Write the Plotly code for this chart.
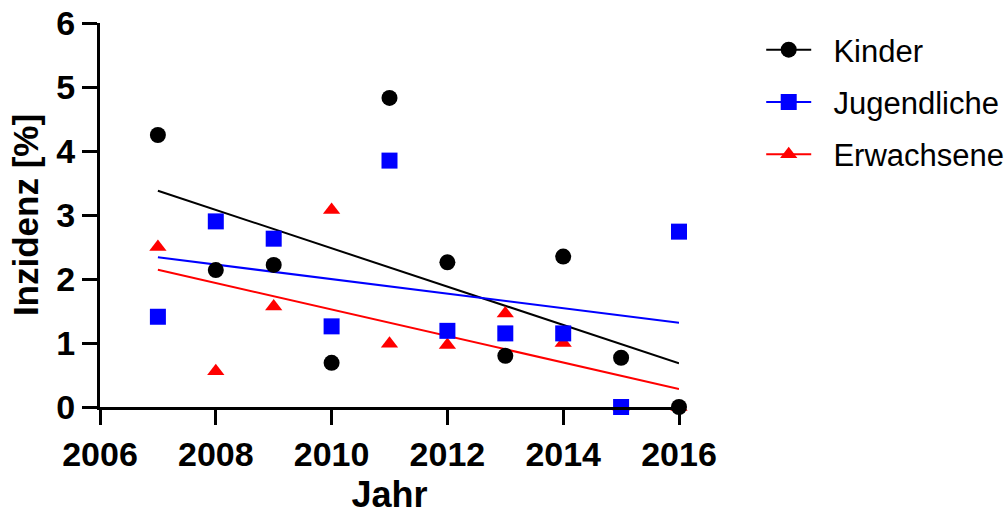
import numpy as np
import plotly.graph_objects as go

years = [2007, 2008, 2009, 2010, 2011, 2012, 2013, 2014, 2015, 2016]
kinder = [4.25, 2.14, 2.22, 0.69, 4.83, 2.26, 0.80, 2.35, 0.77, 0.00]
jugendliche = [1.41, 2.90, 2.63, 1.26, 3.85, 1.19, 1.15, 1.15, 0.00, 2.74]
erwachsene = [2.50, 0.56, 1.57, 3.08, 0.99, 0.97, 1.46, 1.00, 0.00, 0.00]

series = [
    ("Kinder", kinder, "#000000", "circle", 16),
    ("Jugendliche", jugendliche, "#0000ff", "square", 16),
    ("Erwachsene", erwachsene, "#ff0000", "triangle-up", 15),
]

FONT = "Liberation Sans, Arial, sans-serif"
fig = go.Figure()

# regression lines first
xs = np.array(years, dtype=float)
for name, vals, color, sym, size in series:
    slope, intercept = np.polyfit(xs, np.array(vals, dtype=float), 1)
    xl = [xs.min(), xs.max()]
    fig.add_trace(go.Scatter(x=xl, y=[slope * v + intercept for v in xl], mode="lines",
                             line=dict(color=color, width=2), showlegend=False,
                             hoverinfo="skip", cliponaxis=False))

# markers: red, blue, black (black on top)
for name, vals, color, sym, size in reversed(series):
    fig.add_trace(go.Scatter(x=years, y=vals, mode="markers", name=name,
                             marker=dict(color=color, symbol=sym, size=size, line=dict(width=0)),
                             showlegend=False, cliponaxis=False))

# legend entries
for i, (name, vals, color, sym, size) in enumerate(series):
    fig.add_trace(go.Scatter(x=[None], y=[None], mode="lines+markers",
                             name="\u00a0\u00a0" + name,
                             line=dict(color=color, width=2),
                             marker=dict(color=color, symbol=sym, size=size, line=dict(width=0)),
                             legendrank=i + 1, legendgroup=name))

axis_common = dict(showline=True, linecolor="black", linewidth=3, ticks="outside",
                   ticklen=15, tickwidth=3, tickcolor="black", showgrid=False, zeroline=False,
                   automargin=False,
                   tickfont=dict(family=FONT, size=34, color="black", weight="bold"))

fig.update_layout(
    width=1007, height=521,
    margin=dict(l=100, r=328, t=23, b=114, autoexpand=False),
    paper_bgcolor="white", plot_bgcolor="white",
    xaxis=dict(range=[2006, 2016], tickvals=[2006, 2008, 2010, 2012, 2014, 2016],
               title=dict(text="Jahr", font=dict(family=FONT, size=36, color="black", weight="bold"),
                          standoff=11),
               **axis_common),
    yaxis=dict(range=[0, 6], tickvals=[0, 1, 2, 3, 4, 5, 6],
               title=dict(text="Inzidenz [%]", font=dict(family=FONT, size=35, color="black", weight="bold"),
                          standoff=8),
               **axis_common),
    legend=dict(x=1.142, y=1.0, xanchor="left", yanchor="top", traceorder="grouped",
                tracegroupgap=9, itemwidth=45,
                font=dict(family=FONT, size=31, color="black"), bgcolor="rgba(0,0,0,0)"),
    showlegend=True,
)

fig.write_html("out.html")
